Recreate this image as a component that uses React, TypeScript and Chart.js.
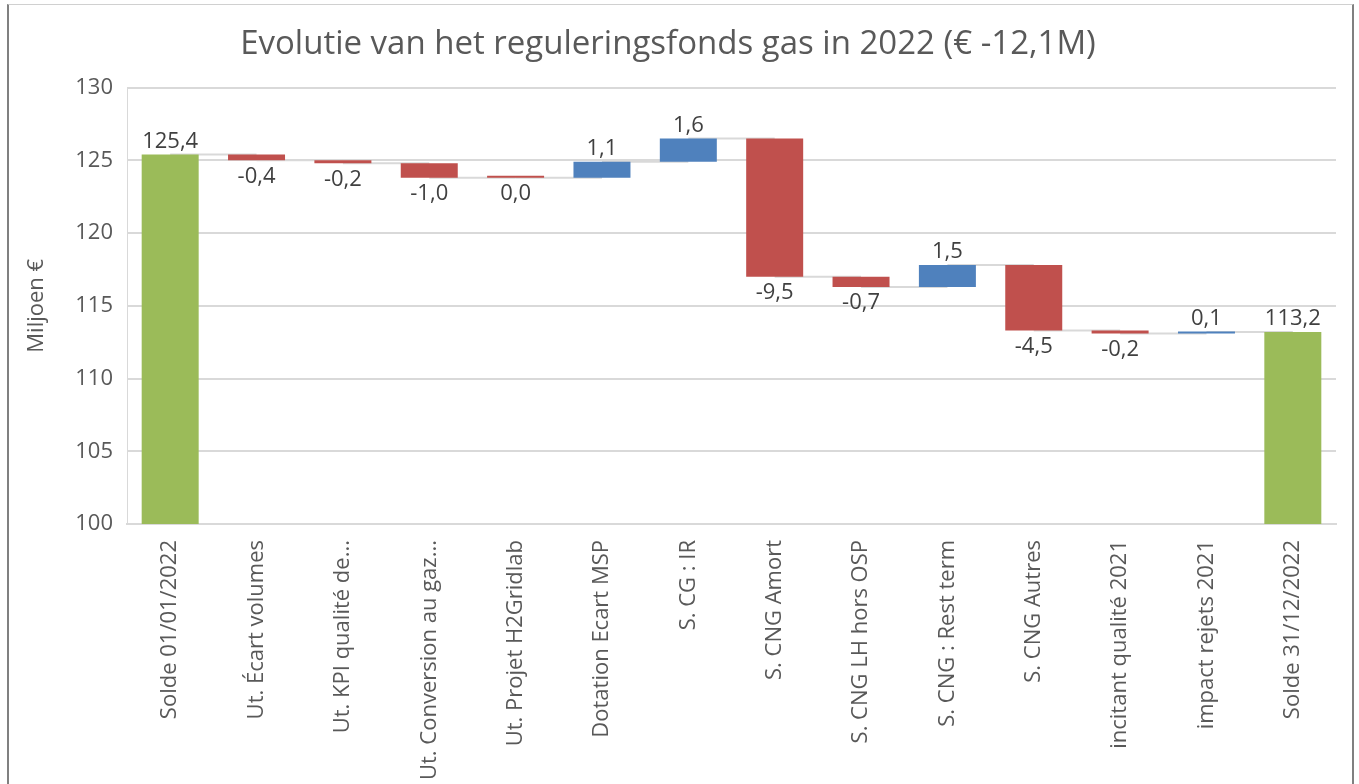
import React, { useEffect, useRef } from "react";
import { Chart, registerables } from "chart.js";

Chart.register(...registerables);

const categories = [
  "Solde 01/01/2022",
  "Ut. Écart volumes",
  "Ut. KPI qualité de...",
  "Ut. Conversion au gaz...",
  "Ut. Projet H2Gridlab",
  "Dotation Ecart MSP",
  "S. CG : IR",
  "S. CNG Amort",
  "S. CNG LH hors OSP",
  "S. CNG : Rest term",
  "S. CNG Autres",
  "incitant qualité 2021",
  "impact rejets 2021",
  "Solde 31/12/2022",
];

const startBalance = 125.4;
const changes = [-0.4, -0.2, -1.0, 0.0, 1.1, 1.6, -9.5, -0.7, 1.5, -4.5, -0.2, 0.1];
const endBalance = 113.2;

const yTicks = { min: 100, max: 130, step: 5 };

const GREEN = "#9BBB59";
const RED = "#C0504D";
const BLUE = "#4F81BD";
const TEXT = "#595959";
const GRID = "#d9d9d9";
const FONT = "'Open Sans', 'Noto Sans', sans-serif";

function fmt(v: number) {
  return v.toFixed(1).replace(".", ",");
}

export default function App() {
  const ref = useRef<HTMLCanvasElement | null>(null);

  useEffect(() => {
    if (!ref.current) return;

    const ranges: [number, number][] = [];
    const labels: string[] = [];
    const colors: string[] = [];
    const above: boolean[] = [];
    const levels: number[] = [];
    ranges.push([0, startBalance]);
    labels.push(fmt(startBalance));
    colors.push(GREEN);
    above.push(true);
    let cur = startBalance;
    levels.push(cur);
    for (const c of changes) {
      const next = Math.round((cur + c) * 100) / 100;
      ranges.push([cur, next]);
      labels.push(fmt(c));
      colors.push(c > 0 ? BLUE : RED);
      above.push(c > 0);
      cur = next;
      levels.push(cur);
    }
    ranges.push([0, endBalance]);
    labels.push(fmt(endBalance));
    colors.push(GREEN);
    above.push(true);
    levels.push(endBalance);

    const connectorPlugin = {
      id: "connectors",
      beforeDatasetsDraw(chart: any) {
        const meta = chart.getDatasetMeta(0);
        const y = chart.scales.y;
        const ctx = chart.ctx;
        ctx.save();
        ctx.strokeStyle = GRID;
        ctx.lineWidth = 2;
        for (let i = 0; i < meta.data.length - 1; i++) {
          const a = meta.data[i];
          const b = meta.data[i + 1];
          const py = y.getPixelForValue(levels[i]);
          ctx.beginPath();
          ctx.moveTo(a.x, py);
          ctx.lineTo(b.x, py);
          ctx.stroke();
        }
        ctx.restore();
      },
    };

    const labelPlugin = {
      id: "valueLabels",
      afterDatasetsDraw(chart: any) {
        const meta = chart.getDatasetMeta(0);
        const ctx = chart.ctx;
        ctx.save();
        ctx.font = `22px ${FONT}`;
        ctx.fillStyle = "#404040";
        ctx.textAlign = "center";
        meta.data.forEach((el: any, i: number) => {
          const top = Math.min(el.y, el.base);
          const bottom = Math.max(el.y, el.base);
          if (above[i]) {
            ctx.textBaseline = "bottom";
            ctx.fillText(labels[i], el.x, top - 2);
          } else {
            ctx.textBaseline = "top";
            ctx.fillText(labels[i], el.x, bottom + 5);
          }
        });
        ctx.restore();
      },
    };

    const chart = new Chart(ref.current, {
      type: "bar",
      data: {
        labels: categories,
        datasets: [
          {
            data: ranges as any,
            backgroundColor: colors,
            borderWidth: 0,
            borderSkipped: false,
            categoryPercentage: 1,
            barPercentage: 0.66,
            minBarLength: 2,
          },
        ],
      },
      options: {
        animation: false,
        responsive: false,
        maintainAspectRatio: false,
        layout: { padding: { left: 0, right: 23, top: 0, bottom: 0 } },
        plugins: {
          legend: { display: false },
          tooltip: { enabled: false },
          title: {
            display: true,
            text: "Evolutie van het reguleringsfonds gas in 2022 (€ -12,1M)",
            color: TEXT,
            font: { family: FONT, size: 33, weight: "normal" },
            padding: { top: 25, bottom: 23 },
          },
        },
        scales: {
          x: {
            grid: { display: false, drawTicks: false },
            border: { display: true, color: GRID, width: 2 },
            ticks: {
              color: TEXT,
              font: { family: FONT, size: 22 },
              maxRotation: 90,
              minRotation: 90,
              autoSkip: false,
              padding: 16,
            },
            afterFit(scale: any) {
              scale.height = 260;
            },
          },
          y: {
            min: yTicks.min,
            max: yTicks.max,
            ticks: {
              stepSize: yTicks.step,
              color: TEXT,
              font: { family: FONT, size: 22 },
              padding: 14,
            },
            grid: { color: GRID, lineWidth: 2, drawTicks: false },
            border: { display: true, color: GRID, width: 1 },
            title: {
              display: true,
              text: "Miljoen €",
              color: TEXT,
              font: { family: FONT, size: 22 },
              padding: { top: 24, bottom: 0 },
            },
            afterFit(scale: any) {
              scale.width = 127;
            },
          },
        },
      },
      plugins: [connectorPlugin, labelPlugin],
    });

    return () => chart.destroy();
  }, []);

  return (
    <div style={{ position: "absolute", left: 0, top: 0, width: 1359, height: 784, background: "#fff" }}>
      <div
        style={{
          position: "absolute",
          left: 7,
          top: 4,
          width: 1347,
          height: 790,
          borderLeft: "2px solid #808080",
          borderRight: "2px solid #808080",
          borderTop: "1px solid #d0d0d0",
          boxSizing: "border-box",
        }}
      />
      <canvas ref={ref} width={1359} height={784} style={{ position: "absolute", left: 0, top: 0 }} />
    </div>
  );
}
